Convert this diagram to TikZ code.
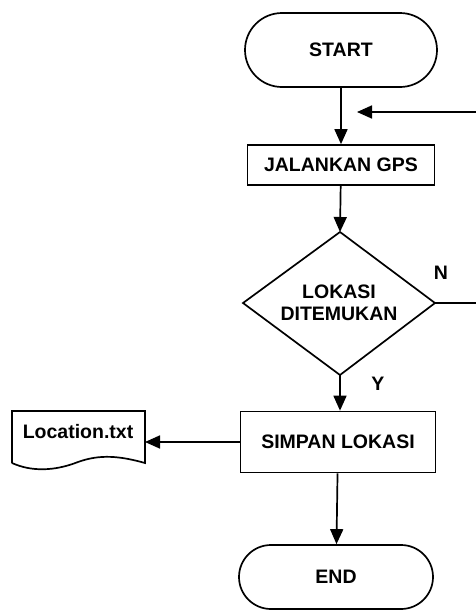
\documentclass[tikz,border=0pt]{standalone}
\usepackage{fontspec}
\setmainfont{Liberation Sans}
\usetikzlibrary{arrows.meta,shapes.misc}
\begin{document}
\begin{tikzpicture}[x=1pt,y=-1pt,
  line width=1.7pt,
  every node/.style={font=\fontsize{19.5}{22}\selectfont\bfseries},
  terminal/.style={draw,rounded rectangle,minimum width=192pt,minimum height=74pt,inner sep=0pt},
  process/.style={draw,rectangle,inner sep=0pt},
  flow/.style={-{Triangle[length=15pt,width=13pt]}},
  lbl/.style={inner sep=0pt}]
\useasboundingbox (0,0) rectangle (476,614);
\fill[white] (0,0) rectangle (476,614);

% terminals and process boxes
\node[terminal] (start) at (341,50) {START};
\node[process,minimum width=187pt,minimum height=40pt] (gps) at (341,165) {JALANKAN GPS};
\node[process,minimum width=195pt,minimum height=61pt] (simpan) at (338,442) {SIMPAN LOKASI};
\node[terminal,minimum width=194pt,minimum height=64pt] (end) at (336,577) {END};

% decision diamond
\coordinate (dtop) at (340,232);
\coordinate (dright) at (435,303);
\coordinate (dbot) at (340,375);
\coordinate (dleft) at (243,303);
\draw (dtop) -- (dright) -- (dbot) -- (dleft) -- cycle;
\node[lbl,align=center] (dec) at (339,303) {LOKASI\\DITEMUKAN};

% output document
\coordinate (docTL) at (12,411);
\coordinate (docTR) at (145,411);
\coordinate (docBR) at (145,463);
\coordinate (docBL) at (12,463);
\draw (docBL) -- (docTL) -- (docTR) -- (docBR)
  .. controls (120,456) and (100,454) .. (78,462)
  .. controls (55,471) and (32,472) .. (docBL);
\node[lbl] (doc) at (78,432) {Location.txt};

% connectors
\draw[flow] (start) -- (gps);
\draw[flow] (gps) -- (dtop);
\draw[flow] (dbot) -- (simpan.north -| dbot);
\draw[flow] (simpan) -- (end);
\draw[flow] (simpan.west) -- (docTR |- simpan.west);

% loop back from the N branch
\coordinate (nout) at (476,303);
\coordinate (back) at (476,112);
\coordinate (backend) at (357,112);
\draw (dright) -- (nout);
\draw[flow] (back) -- (backend);

% branch labels
\node[lbl] (nlab) at (441,273) {N};
\node[lbl] (ylab) at (378,384) {Y};
\end{tikzpicture}
\end{document}
